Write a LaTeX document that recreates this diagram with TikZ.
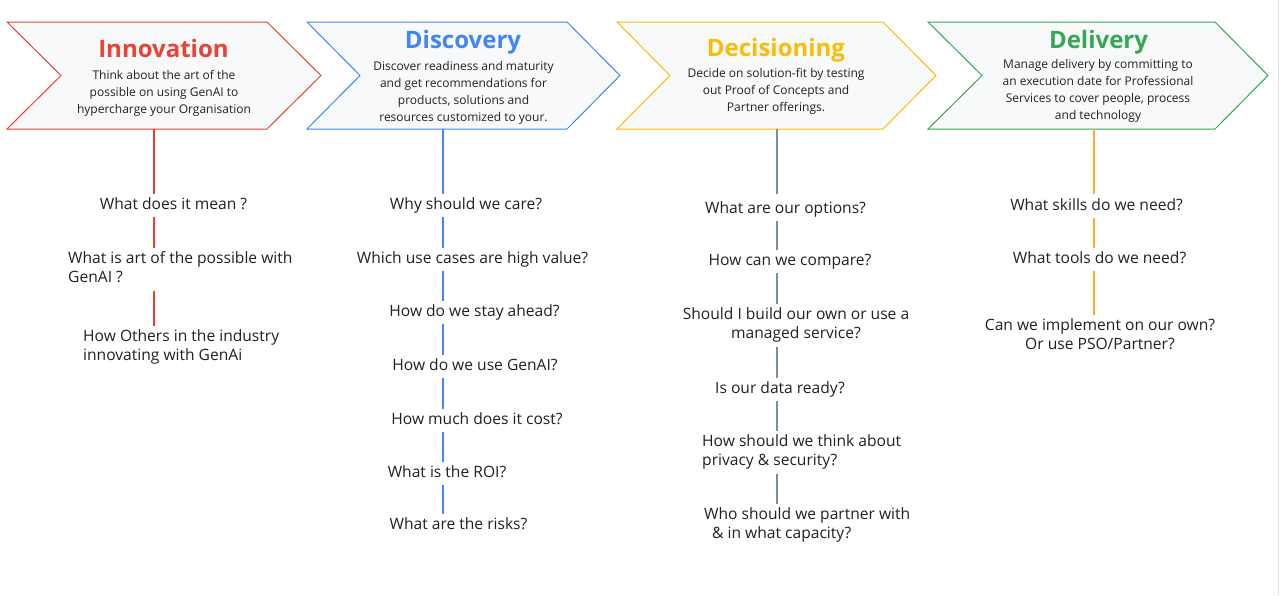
\documentclass[tikz,border=0pt]{standalone}
\usepackage{fontspec}
\setmainfont{Open Sans}
\definecolor{gred}{HTML}{EA4335}
\definecolor{gblue}{HTML}{4285F4}
\definecolor{gyellow}{HTML}{FBBC04}
\definecolor{ggreen}{HTML}{34A853}
\definecolor{ggray}{HTML}{78909C}
\definecolor{gorange}{HTML}{FBA834}
\definecolor{chfill}{HTML}{F8F9FA}
\definecolor{txt}{HTML}{202124}
\definecolor{edge}{HTML}{DADCE0}
\newcommand\qa{\rule{0pt}{12.5pt}}
\newcommand\qb{\rule[-4pt]{0pt}{4pt}}
\begin{document}
\begin{tikzpicture}[x=1pt,y=-1pt,
 chev/.style={draw=#1, line width=1pt, fill=chfill, line join=miter},
 ttl/.style={font=\fontsize{24}{29}\selectfont\bfseries, text=#1, anchor=base, inner sep=0pt},
 desc/.style={font=\fontsize{12}{17}\selectfont, text=txt, align=center, inner sep=0pt},
 qn/.style={font=\fontsize{15.6}{19.5}\selectfont, text=txt, inner sep=0pt},
 link/.style={draw=#1, line width=2pt},
]
\useasboundingbox (0,0) rectangle (1280,595);
\fill[white] (0,0) rectangle (1280,595);
\draw[edge, line width=1pt] (1278.5,0) -- (1278.5,595);

% chevrons
\draw[chev=gred]    (7,22) -- (267,22) -- (321,75.5) -- (267,129) -- (7,129) -- (61,75.5) -- cycle;
\draw[chev=gblue]   (307,22) -- (567,22) -- (620,75.5) -- (567,129) -- (307,129) -- (360,75.5) -- cycle;
\draw[chev=gyellow] (617,22) -- (883,22) -- (936,75.5) -- (883,129) -- (617,129) -- (670,75.5) -- cycle;
\draw[chev=ggreen]  (928,22) -- (1215,22) -- (1268,75.5) -- (1215,129) -- (928,129) -- (982,75.5) -- cycle;

% titles and descriptions
\node[ttl=gred] (innovT) at (163.5,57) {Innovation};
\node[desc] (innovD) at (164,93) {Think about the art of the\\possible on using GenAI to\\hypercharge your Organisation};
\node[ttl=gblue] (discT) at (463,48) {Discovery};
\node[desc] (discD) at (463.5,92.5) {Discover readiness and maturity\\and get recommendations for\\products, solutions and\\resources customized to your.};
\node[ttl=gyellow] (decT) at (776,56) {Decisioning};
\node[desc] (decD) at (776,91) {Decide on solution-fit by testing\\out Proof of Concepts and\\Partner offerings.};
\node[ttl=ggreen] (delT) at (1098.5,48) {Delivery};
\node[desc] (delD) at (1098,91) {Manage delivery by committing to\\an execution date for Professional\\Services to cover people, process\\and technology};

\coordinate (innovB) at (154,129);
\coordinate (discB) at (443,129);
\coordinate (decB) at (777,129);
\coordinate (delB) at (1094,129);

% Innovation questions
\node[qn, anchor=north] (q1) at (173.5,196.5) {\qa What does it mean ?\qb};
\node[qn, anchor=north west, align=left] (q2) at (68,250.5) {\qa What is art of the possible with\\GenAI ?\qb};
\node[qn, anchor=north west, align=left] (q3) at (83,328.5) {\qa How Others in the industry\\innovating with GenAi\qb};
\draw[link=gred] (innovB) -- ([yshift=3pt]q1.north -| innovB);
\draw[link=gred] ([yshift=-4pt]q1.south -| innovB) -- ([yshift=3pt]q2.north -| innovB);
\draw[link=gred] ([yshift=-4pt]q2.south -| innovB) -- ([yshift=3pt]q3.north -| innovB);

% Discovery questions
\node[qn, anchor=north] (d1) at (466,196.5) {\qa Why should we care?\qb};
\node[qn, anchor=north] (d2) at (472.5,250.5) {\qa Which use cases are high value?\qb};
\node[qn, anchor=north] (d3) at (474.5,303.5) {\qa How do we stay ahead?\qb};
\node[qn, anchor=north] (d4) at (475,357.5) {\qa How do we use GenAI?\qb};
\node[qn, anchor=north] (d5) at (477,411.5) {\qa How much does it cost?\qb};
\node[qn, anchor=north] (d6) at (447,464.5) {\qa What is the ROI?\qb};
\node[qn, anchor=north] (d7) at (458.5,516.5) {\qa What are the risks?\qb};
\draw[link=gblue] (discB) -- ([yshift=3pt]d1.north -| discB);
\foreach \a/\b in {d1/d2,d2/d3,d3/d4,d4/d5,d5/d6,d6/d7}
  \draw[link=gblue] ([yshift=-4pt]\a.south -| discB) -- ([yshift=3pt]\b.north -| discB);

% Decisioning questions
\node[qn, anchor=north] (c1) at (785.5,200.5) {\qa What are our options?\qb};
\node[qn, anchor=north] (c2) at (790,252.5) {\qa How can we compare?\qb};
\node[qn, anchor=north, align=center] (c3) at (796,306.5) {\qa Should I build our own or use a\\managed service?\qb};
\node[qn, anchor=north] (c4) at (780,380.5) {\qa Is our data ready?\qb};
\node[qn, anchor=north west, align=left] (c5) at (702,433.5) {\qa How should we think about\\privacy \& security?\qb};
\node[qn, anchor=north west, align=left] (c6) at (704,506.5) {\qa Who should we partner with\\\hspace*{8pt}\& in what capacity?\qb};
\draw[link=ggray] (decB) -- ([yshift=7pt]c1.north -| decB);
\foreach \a/\b in {c1/c2,c2/c3,c3/c4,c4/c5,c5/c6}
  \draw[link=ggray] ([yshift=-4pt]\a.south -| decB) -- ([yshift=3pt]\b.north -| decB);

% Delivery questions
\node[qn, anchor=north] (v1) at (1096.5,197.5) {\qa What skills do we need?\qb};
\node[qn, anchor=north] (v2) at (1099.5,250.5) {\qa What tools do we need?\qb};
\node[qn, anchor=north, align=center] (v3) at (1100,317.5) {\qa Can we implement on our own?\\Or use PSO/Partner?\qb};
\draw[link=gorange] (delB) -- ([yshift=4pt]v1.north -| delB);
\foreach \a/\b in {v1/v2,v2/v3}
  \draw[link=gorange] ([yshift=-4pt]\a.south -| delB) -- ([yshift=3pt]\b.north -| delB);
\end{tikzpicture}
\end{document}
